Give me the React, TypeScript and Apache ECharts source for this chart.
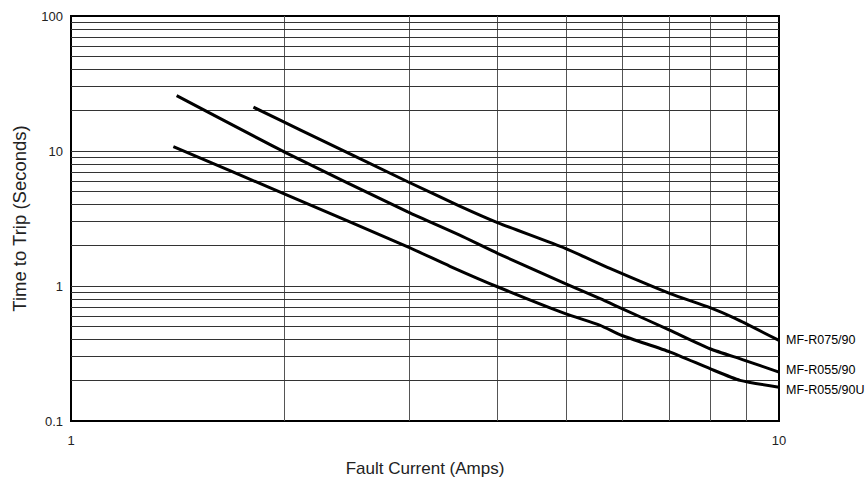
import React, { useEffect, useRef } from "react";
import * as echarts from "echarts";

// Tick labels
const xTickLabels = [1, 10];
const yTickLabels = [0.1, 1, 10, 100];

// Gridline values
const xGridValues = [2, 3, 4, 5, 6, 7, 8, 9];
const yGridValues = [
  0.2, 0.3, 0.4, 0.5, 0.6, 0.7, 0.8, 0.9,
  1, 2, 3, 4, 5, 6, 7, 8, 9,
  10, 20, 30, 40, 50, 60, 70, 80, 90,
];

// Series: MF-R075/90
const r075Name = "MF-R075/90";
const r075X = [1.81, 2.11, 2.99, 3.54, 4.01, 4.99, 5.77, 7.02, 7.99, 8.67, 10];
const r075Y = [21.1, 14.3, 5.92, 3.91, 2.94, 1.9, 1.35, 0.878, 0.691, 0.575, 0.395];

// Series: MF-R055/90
const r055Name = "MF-R055/90";
const r055X = [1.41, 2.02, 2.99, 3.54, 4.01, 4.99, 5.59, 6.0, 7.02, 7.99, 8.9, 10];
const r055Y = [25.7, 9.61, 3.54, 2.38, 1.74, 1.04, 0.806, 0.68, 0.469, 0.343, 0.284, 0.23];

// Series: MF-R055/90U
const r055uName = "MF-R055/90U";
const r055uX = [1.395, 2.02, 2.99, 3.43, 4.01, 4.99, 5.59, 6.0, 7.02, 7.99, 8.81, 10];
const r055uY = [10.76, 4.72, 1.95, 1.4, 0.983, 0.624, 0.511, 0.43, 0.324, 0.244, 0.2, 0.178];

const FONT = "'Liberation Sans', Arial, sans-serif";

const zip = (xs: number[], ys: number[]) => xs.map((x, i) => [x, ys[i]]);

export default function App() {
  const ref = useRef<HTMLDivElement>(null);

  useEffect(() => {
    if (!ref.current) return;
    const chart = echarts.init(ref.current, undefined, {
      renderer: "svg",
      width: 868,
      height: 478,
    });

    const curve = (name: string, xs: number[], ys: number[], labelOffsetY: number) => ({
      name,
      type: "line",
      data: zip(xs, ys),
      showSymbol: false,
      symbol: "none",
      smooth: 0.2,
      z: 5,
      lineStyle: { color: "#000", width: 3 },
      endLabel: {
        show: true,
        formatter: "{a}",
        color: "#000",
        fontFamily: FONT,
        fontSize: 12.5,
        distance: 7,
        offset: [0, labelOffsetY],
      },
      silent: true,
    });

    chart.setOption({
      animation: false,
      grid: {
        left: 71,
        right: 89,
        top: 16,
        bottom: 57,
        show: true,
        borderColor: "#000",
        borderWidth: 2,
        backgroundColor: "transparent",
        containLabel: false,
        outerBoundsMode: "none",
      },
      xAxis: {
        type: "log",
        logBase: 10,
        min: 1,
        max: 10,
        name: "Fault Current (Amps)",
        nameLocation: "middle",
        nameGap: 39,
        nameTextStyle: { color: "#222", fontFamily: FONT, fontSize: 17 },
        axisLine: { show: false },
        axisTick: { show: false },
        splitLine: { show: false },
        axisLabel: {
          color: "#222",
          fontFamily: FONT,
          fontSize: 13,
          margin: 13,
          formatter: (v: number) => {
            const m = xTickLabels.find((t) => Math.abs(t - v) < 1e-6);
            return m !== undefined ? String(m) : "";
          },
        },
      },
      yAxis: {
        type: "log",
        logBase: 10,
        min: 0.1,
        max: 100,
        name: "Time to Trip (Seconds)",
        nameLocation: "middle",
        nameGap: 42,
        nameTextStyle: { color: "#222", fontFamily: FONT, fontSize: 18.5 },
        axisLine: { show: false },
        axisTick: { show: false },
        splitLine: { show: false },
        axisLabel: {
          color: "#222",
          fontFamily: FONT,
          fontSize: 13,
          margin: 8,
          formatter: (v: number) => {
            const m = yTickLabels.find((t) => Math.abs(t - v) / t < 1e-6);
            return m !== undefined ? String(m) : "";
          },
        },
      },
      series: [
        {
          name: "grid",
          type: "line",
          data: [],
          z: 1,
          silent: true,
          markLine: {
            silent: true,
            symbol: ["none", "none"],
            label: { show: false },
            animation: false,
            data: [
              ...xGridValues.map((v) => ({
                xAxis: v,
                lineStyle: { color: "#555", width: 1, type: "solid" },
              })),
              ...yGridValues.map((v) => ({
                yAxis: v,
                lineStyle: { color: "#333", width: 1, type: "solid" },
              })),
            ],
          },
        },
        curve(r075Name, r075X, r075Y, 0),
        curve(r055Name, r055X, r055Y, -2),
        curve(r055uName, r055uX, r055uY, 3),
      ],
    });

    return () => chart.dispose();
  }, []);

  return (
    <div
      ref={ref}
      style={{ position: "fixed", left: 0, top: 0, width: 868, height: 478, background: "#fff" }}
    />
  );
}
